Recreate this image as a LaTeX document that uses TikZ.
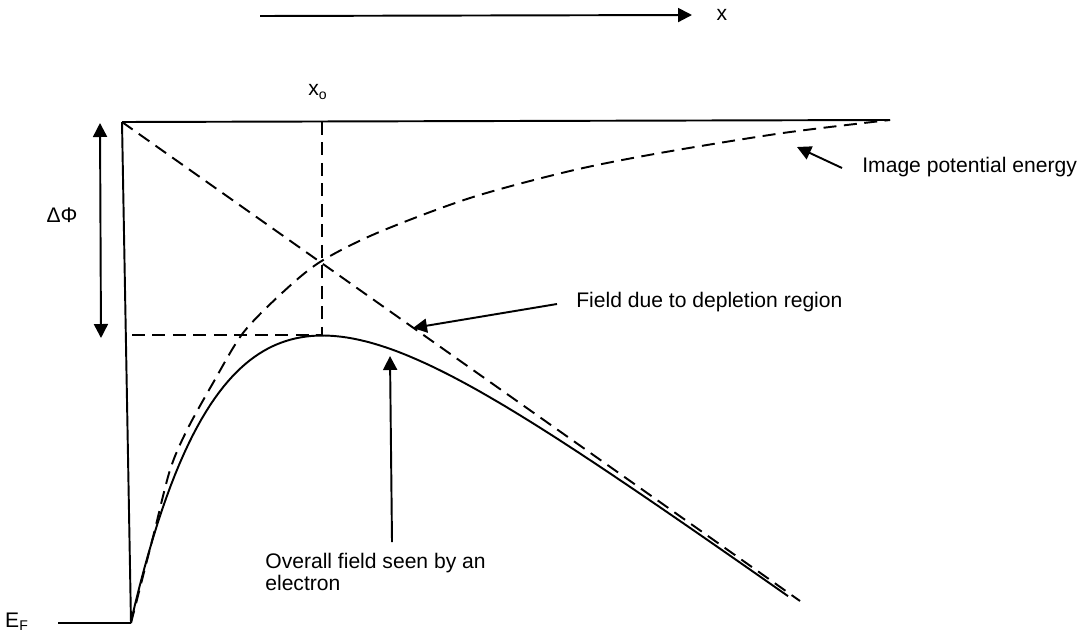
\documentclass[tikz,border=0pt]{standalone}
\usepackage{fontspec}
\setmainfont{Liberation Sans}
\usetikzlibrary{arrows.meta}

\begin{document}
\begin{tikzpicture}[
    x=0.02cm, y=-0.02cm,
    >={Triangle[length=0.28cm, width=0.28cm]},
    curve/.style={line width=1.1pt},
    guide/.style={line width=1.1pt, dash pattern=on 0.26cm off 0.15cm},
    pointer/.style={->, line width=1.1pt},
    lbl/.style={font=\fontsize{12}{10.5}\selectfont, inner sep=0pt},
]
\path[fill=white, use as bounding box] (0,0) rectangle (1087,632);

% === Direction of x ===
\coordinate (axis-start) at (260,16);
\coordinate (axis-end) at (692,15);
\draw[pointer] (axis-start) -- (axis-end);
\node[lbl] (x-lbl) at (722,15) {x};

% === Vacuum level, metal side and Fermi level ===
\coordinate (vac-left) at (122,122);
\coordinate (vac-right) at (890,120);
\coordinate (fermi-corner) at (131,623);
\coordinate (fermi-left) at (58,623);
\draw[curve] (vac-left) -- (vac-right);
\draw[curve] (vac-left) -- (fermi-corner);
\draw[curve] (fermi-left) -- (fermi-corner);
\node[lbl] (ef-lbl) at (17,622) {E\textsubscript{F}};

% === Field due to depletion region (straight) ===
\coordinate (depl-end) at (800,601);
\draw[guide] (vac-left) -- (depl-end);

% === Image potential energy ===
\draw[guide] plot[smooth] coordinates {
    (131,623) (153,537) (170,470) (187,430) (213,383) (243,333)
    (282,293) (320,262) (377,233) (470,198) (570,171) (660,153)
    (783,133) (890,120)};

% === Overall field seen by an electron ===
\draw[curve] plot[domain=131:788, samples=150, variable=\t]
    (\t, {122 + 0.7065*(\t-122) + 490*exp(-(\t-131)/97.6) + 3});

% === Barrier maximum ===
\coordinate (peak) at (322,335);
\coordinate (peak-top) at (322,122);
\coordinate (peak-left) at (132,335);
\draw[guide] (peak-top) -- (peak);
\draw[guide] (peak-left) -- (peak);
\node[lbl] (xo-lbl) at (318,92) {x\textsubscript{o}};

% === Barrier lowering ===
\coordinate (dphi-top) at (100,123);
\coordinate (dphi-bot) at (101,338);
\draw[<->, line width=1.1pt] (dphi-top) -- (dphi-bot);
\node[lbl] (dphi-lbl) at (62,215) {ΔΦ};

% === Labels with pointers ===
\node[lbl, anchor=west] (image-lbl) at (862,167) {Image potential energy};
\node[lbl, anchor=west] (field-lbl) at (576,302) {Field due to depletion region};
\node[lbl, anchor=north west, align=left] (overall-lbl) at (265,553)
    {Overall field seen by an\\electron};

\coordinate (image-tail) at (842,168);
\coordinate (image-tip) at (797,147);
\coordinate (field-tail) at (557,304);
\coordinate (field-tip) at (413,328);
\coordinate (overall-tail) at (392,542);
\coordinate (overall-tip) at (390,356);
\draw[pointer] (image-tail) -- (image-tip);
\draw[pointer] (field-tail) -- (field-tip);
\draw[pointer] (overall-tail) -- (overall-tip);

\end{tikzpicture}
\end{document}
